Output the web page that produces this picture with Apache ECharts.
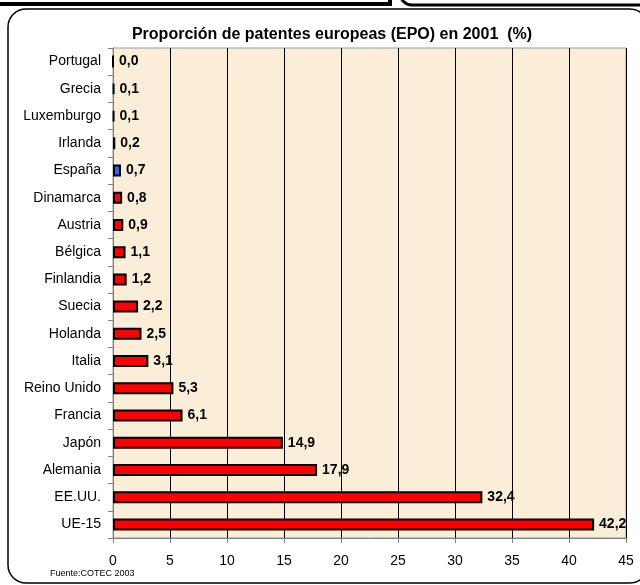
<!DOCTYPE html>
<html>
<head>
<meta charset="utf-8">
<script src="https://cdn.jsdelivr.net/npm/echarts@6/dist/echarts.min.js"></script>
<style>
  html, body { margin: 0; padding: 0; background: #fff; }
  #chart { width: 640px; height: 585px; }
</style>
</head>
<body>
<div id="chart"></div>
<script>
// paises, de arriba abajo
const paises = ["Portugal", "Grecia", "Luxemburgo", "Irlanda", "España", "Dinamarca", "Austria",
  "Bélgica", "Finlandia", "Suecia", "Holanda", "Italia", "Reino Unido", "Francia", "Japón",
  "Alemania", "EE.UU.", "UE-15"];
const proporcion = [0.0, 0.1, 0.1, 0.2, 0.7, 0.8, 0.9, 1.1, 1.2, 2.2, 2.5, 3.1, 5.3, 6.1, 14.9,
  17.9, 32.4, 42.2];
const ejeTicks = [0, 5, 10, 15, 20, 25, 30, 35, 40, 45];

const chart = echarts.init(document.getElementById("chart"));

const options = {
  animation: false,
  textStyle: { fontFamily: "Liberation Sans, Arial, sans-serif" },
  title: {
    text: "Proporción de patentes europeas (EPO) en 2001  (%)",
    left: 327,
    textAlign: "center",
    top: 22,
    textStyle: { fontSize: 16, fontWeight: "bold", color: "#000" },
  },
  grid: {
    left: 113,
    right: 14,
    top: 48,
    bottom: 47,
    show: true,
    backgroundColor: "#faeed9",
    borderColor: "#9a9a9a",
    borderWidth: 1,
  },
  xAxis: {
    type: "value",
    min: ejeTicks[0],
    max: ejeTicks[ejeTicks.length - 1],
    interval: 5,
    axisLine: { show: true, lineStyle: { color: "#808080" } },
    axisTick: { show: true, length: 5, lineStyle: { color: "#808080" } },
    axisLabel: { fontSize: 14, color: "#000", margin: 16 },
    splitLine: { show: true, lineStyle: { color: "#000", width: 1 } },
  },
  yAxis: {
    type: "category",
    inverse: true,
    data: paises,
    axisLine: { show: true, lineStyle: { color: "#808080" } },
    axisTick: { show: true, length: 5, lineStyle: { color: "#808080" } },
    axisLabel: { fontSize: 14, color: "#000", margin: 12 },
  },
  series: {
    type: "bar",
    barWidth: 12,
    data: proporcion.map((v, i) => ({
      value: v,
      itemStyle: { color: paises[i] === "España" ? "#3366ff" : "#ff0000" },
    })),
    itemStyle: { borderColor: "#000", borderWidth: 2 },
    label: {
      show: true,
      position: "right",
      distance: 5,
      fontSize: 14,
      fontWeight: "bold",
      color: "#000",
      formatter: (p) => p.value.toFixed(1).replace(".", ","),
    },
  },
  graphic: [
    {
      type: "rect",
      shape: { x: -20, y: -40, width: 410, height: 44 },
      style: { fill: "none", stroke: "#000", lineWidth: 4 },
      silent: true,
    },
    {
      type: "rect",
      shape: { x: 400, y: -40, width: 300, height: 45, r: 12 },
      style: { fill: "none", stroke: "#000", lineWidth: 3 },
      silent: true,
    },
    {
      type: "rect",
      shape: { x: 8, y: 9, width: 640, height: 574, r: 18 },
      style: { fill: "none", stroke: "#000", lineWidth: 1.5 },
      silent: true,
      z: -1,
    },
    {
      type: "text",
      left: 50,
      top: 569,
      style: { text: "Fuente:COTEC 2003", fontSize: 9, fill: "#000", fontFamily: "Liberation Sans, Arial, sans-serif" },
      silent: true,
    },
  ],
};

chart.setOption(options);
</script>
</body>
</html>
